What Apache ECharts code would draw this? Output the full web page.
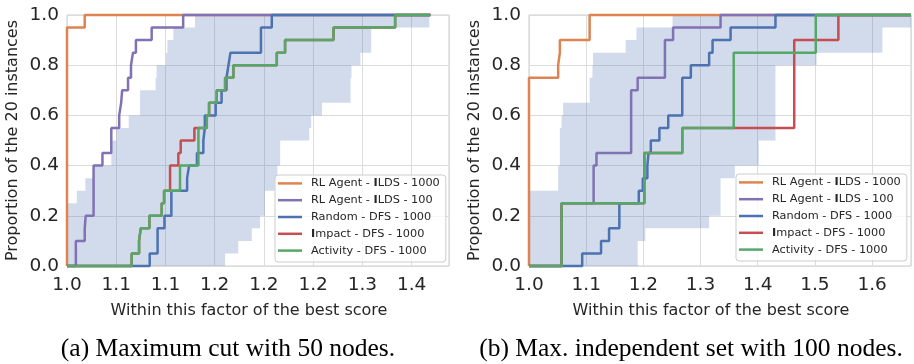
<!DOCTYPE html>
<html><head><meta charset="utf-8">
<script src="https://cdn.jsdelivr.net/npm/echarts@6/dist/echarts.min.js"></script>
<style>html,body{margin:0;padding:0;background:#fff}#c{width:914px;height:364px}</style>
</head><body><div id="c"></div>
<script>
// ---------------- data ----------------
const seriesNames = ['RL Agent - ILDS - 1000', 'RL Agent - ILDS - 100', 'Random - DFS - 1000', 'Impact - DFS - 1000', 'Activity - DFS - 1000'];
const seriesColors = ['#dd8452', '#8172b3', '#4c72b0', '#c44e52', '#55a868'];
const captions = ['(a) Maximum cut with 50 nodes.', '(b) Max. independent set with 100 nodes.'];
const yAxisTitle = 'Proportion of the 20 instances';
const xAxisTitle = 'Within this factor of the best score';
const leftTickLabels = ['1.0', '1.1', '1.1', '1.2', '1.2', '1.2', '1.3', '1.4'];
const rightTickLabels = ['1.0', '1.1', '1.2', '1.3', '1.4', '1.5', '1.6'];
const yTickLabels = ['0.0', '0.2', '0.4', '0.6', '0.8', '1.0'];

// (a) maximum cut: sorted ratios of the 20 instances
const leftOrange = [1, 1, 1, 1, 1, 1, 1, 1, 1, 1, 1, 1, 1, 1, 1, 1, 1, 1, 1, 1.018];
const leftPurple = [1.009, 1.009, 1.018, 1.019, 1.027, 1.027, 1.027, 1.027, 1.036, 1.045, 1.045, 1.053, 1.055, 1.056, 1.062, 1.065, 1.067, 1.070, 1.086, 1.118];
const leftBlue = [1.084, 1.092, 1.092, 1.099, 1.106, 1.106, 1.122, 1.124, 1.132, 1.1385, 1.140, 1.140, 1.151, 1.157, 1.162, 1.164, 1.166, 1.197, 1.197, 1.208];
const leftRed = [1.0657, 1.0732, 1.0749, 1.0837, 1.0962, 1.0986, 1.1047, 1.1047, 1.1131, 1.1155, 1.1294, 1.142, 1.1443, 1.1521, 1.1606, 1.169, 1.2131, 1.2215, 1.2707, 1.3333];
const leftGreen = [1.0657, 1.0732, 1.0749, 1.0837, 1.0962, 1.0986, 1.1148, 1.1148, 1.1335, 1.1335, 1.1335, 1.142, 1.1443, 1.1521, 1.1606, 1.169, 1.2131, 1.2215, 1.2707, 1.3333];
// shaded band, one row per 0.05 of proportion (bottom to top)
const leftBandLow = [1.0, 1.0, 1.0, 1.0, 1.0, 1.010, 1.0186, 1.027, 1.045, 1.046, 1.050, 1.0627, 1.0742, 1.0742, 1.090, 1.091, 1.1006, 1.102, 1.108, 1.130];
const leftBandHigh = [1.1606, 1.174, 1.1877, 1.196, 1.201, 1.201, 1.211, 1.2137, 1.2165, 1.2165, 1.246, 1.248, 1.259, 1.288, 1.288, 1.289, 1.298, 1.309, 1.309, 1.368];
const leftLineEnd = 1.369;

// (b) max independent set
const rightOrange = [1, 1, 1, 1, 1, 1, 1, 1, 1, 1, 1, 1, 1, 1, 1, 1.051, 1.054, 1.054, 1.106, 1.106];
const rightPurple = [1.057, 1.057, 1.057, 1.057, 1.057, 1.113, 1.113, 1.113, 1.118, 1.1786, 1.1786, 1.1786, 1.1786, 1.1786, 1.190, 1.2377, 1.2377, 1.2377, 1.252, 1.335];
const rightBlue = [1.093, 1.126, 1.140, 1.158, 1.158, 1.192, 1.199, 1.207, 1.209, 1.213, 1.228, 1.2435, 1.268, 1.268, 1.268, 1.283, 1.315, 1.321, 1.3525, 1.431];
const rightRed = [1.057, 1.057, 1.057, 1.057, 1.057, 1.2017, 1.2017, 1.2017, 1.2017, 1.268, 1.268, 1.4638, 1.4638, 1.4638, 1.4638, 1.4638, 1.4638, 1.4638, 1.541, 1.541];
const rightGreen = [1.057, 1.057, 1.057, 1.057, 1.057, 1.2017, 1.2017, 1.2017, 1.2017, 1.268, 1.268, 1.358, 1.358, 1.358, 1.358, 1.358, 1.358, 1.5015, 1.5015, 1.5015];
const rightBandLow = [1, 1, 1, 1, 1, 1, 1.051, 1.051, 1.054, 1.054, 1.054, 1.057, 1.0597, 1.106, 1.106, 1.111, 1.112, 1.169, 1.188, 1.251];
const rightBandHigh = [1.19, 1.19, 1.2035, 1.315, 1.335, 1.335, 1.335, 1.36, 1.4017, 1.4017, 1.431, 1.431, 1.431, 1.431, 1.431, 1.431, 1.503, 1.618, 1.618, 1.668];
const rightLineEnd = 1.668;

const leftXMax = 1.388, rightXMax = 1.668;

// ---------------- chart ----------------
const FONT = 'DejaVu Sans';
const TXT = '#262626';
const bandColor = 'rgba(76,114,176,0.26)';

function ecdf(vals, xEnd) {
  const d = [[1.0, 0]];
  vals.forEach((v, i) => d.push([v, (i + 1) / vals.length]));
  d.push([xEnd, 1]);
  return d;
}
function bandSeries(idx, low, high) {
  const step = 1 / low.length;
  return {
    type: 'custom', xAxisIndex: idx, yAxisIndex: idx, silent: true, z: 1,
    data: [[low[0], 0]],
    renderItem: (params, api) => {
      const pts = [];
      for (let i = 0; i < low.length; i++) {
        pts.push(api.coord([low[i], i * step]));
        pts.push(api.coord([low[i], (i + 1) * step]));
      }
      for (let i = high.length - 1; i >= 0; i--) {
        pts.push(api.coord([high[i], (i + 1) * step]));
        pts.push(api.coord([high[i], i * step]));
      }
      return { type: 'polygon', shape: { points: pts }, style: { fill: bandColor } };
    }
  };
}
function lineSeries(idx, lists, xEnd) {
  return lists.map((vals, k) => ({
    type: 'line', name: seriesNames[k], xAxisIndex: idx, yAxisIndex: idx,
    data: ecdf(vals, xEnd), step: 'end', showSymbol: false, symbol: 'none', clip: false,
    color: seriesColors[k], lineStyle: { width: 2.5, color: seriesColors[k] }, z: 2 + k, silent: true
  }));
}
function xAxis(idx, max, interval, labels) {
  return {
    type: 'value', gridIndex: idx, min: 1.0, max: max, interval: interval,
    name: xAxisTitle, nameLocation: 'middle', nameGap: 37,
    nameTextStyle: { fontFamily: FONT, fontSize: 16, color: TXT, padding: [0, 18, 0, 0] },
    axisLine: { show: false }, axisTick: { show: false },
    axisLabel: {
      fontFamily: FONT, fontSize: 18.5, color: TXT, margin: 10, showMaxLabel: true,
      formatter: v => {
        const k = Math.round((v - 1) / interval);
        if (Math.abs(v - (1 + k * interval)) > 1e-6 || k < 0 || k >= labels.length) return '';
        return labels[k];
      }
    },
    splitLine: { show: true, lineStyle: { color: '#dcdcdc', width: 1 } }
  };
}
function yAxis(idx) {
  return {
    type: 'value', gridIndex: idx, min: 0, max: 1, interval: 0.2,
    name: yAxisTitle, nameLocation: 'middle', nameGap: 46, nameRotate: 90,
    nameTextStyle: { fontFamily: FONT, fontSize: 16, color: TXT },
    axisLine: { show: false }, axisTick: { show: false },
    axisLabel: { fontFamily: FONT, fontSize: 18.5, color: TXT, margin: 8,
      formatter: v => yTickLabels[Math.round(v / 0.2)] },
    splitLine: { show: true, lineStyle: { color: '#dcdcdc', width: 1 } }
  };
}
function legend(left, top) {
  return {
    left: left, top: top, orient: 'vertical', data: seriesNames, icon: 'rect',
    itemWidth: 24, itemHeight: 2.5, itemGap: 0, padding: [0, 6, 3, 3], selectedMode: false,
    backgroundColor: 'rgba(255,255,255,0.8)', borderColor: '#cccccc', borderWidth: 1, borderRadius: 3,
    formatter: n => n.replace('ILDS', '{b|I}LDS').replace('Impact', '{b|I}mpact'),
    textStyle: {
      fontFamily: FONT, fontSize: 11.3, color: TXT, lineHeight: 16.8, padding: [0, 0, 0, 4],
      rich: { b: { fontFamily: FONT, fontSize: 11.3, fontWeight: 'bold', color: TXT, lineHeight: 16.8 } }
    }
  };
}

const chart = echarts.init(document.getElementById('c'), null, { renderer: 'canvas' });
chart.setOption({
  animation: false,
  backgroundColor: '#ffffff',
  grid: [
    { left: 67, top: 15, width: 382, height: 251, show: true, borderColor: '#cccccc', borderWidth: 1, backgroundColor: 'transparent' },
    { left: 529, top: 15, width: 384, height: 251, show: true, borderColor: '#cccccc', borderWidth: 1, backgroundColor: 'transparent' }
  ],
  xAxis: [xAxis(0, leftXMax, 0.05, leftTickLabels), xAxis(1, rightXMax, 0.1, rightTickLabels)],
  yAxis: [yAxis(0), yAxis(1)],
  legend: [legend(275, 175), legend(736, 174)],
  series: [
    bandSeries(0, leftBandLow, leftBandHigh),
    ...lineSeries(0, [leftOrange, leftPurple, leftBlue, leftRed, leftGreen], leftLineEnd),
    bandSeries(1, rightBandLow, rightBandHigh),
    ...lineSeries(1, [rightOrange, rightPurple, rightBlue, rightRed, rightGreen], rightLineEnd)
  ],
  graphic: [
    { type: 'text', x: 228, y: 349, style: { text: captions[0], font: '25.5px "Liberation Serif"', fill: '#000', align: 'center', verticalAlign: 'middle' } },
    { type: 'text', x: 691, y: 349, style: { text: captions[1], font: '25.5px "Liberation Serif"', fill: '#000', align: 'center', verticalAlign: 'middle' } }
  ]
});
</script></body></html>
